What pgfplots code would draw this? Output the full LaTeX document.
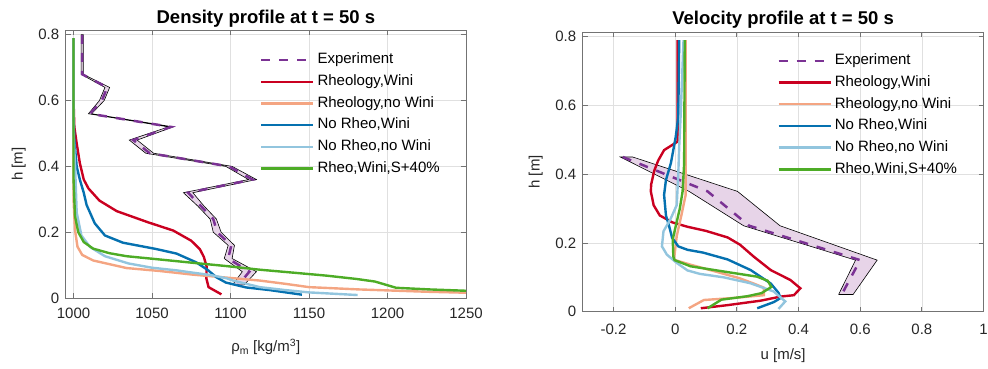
\documentclass[border=0pt]{standalone}
\usepackage{pgfplots}
\pgfplotsset{compat=1.18}
\usepackage{fontspec}
\setmainfont{Liberation Sans}
\definecolor{cRW}{HTML}{CA0020}
\definecolor{cRn}{HTML}{F4A582}
\definecolor{cNW}{HTML}{0571B0}
\definecolor{cNn}{HTML}{92C5DE}
\definecolor{cS}{HTML}{4DAC26}
\definecolor{cExp}{HTML}{7B3294}
\definecolor{cBand}{HTML}{E7D4E8}
\pgfplotsset{
  myaxis/.style={
    scale only axis,
    anchor=south west,
    font=\fontsize{15}{18}\selectfont,
    tick label style={font=\fontsize{15}{18}\selectfont, color=black!85},
    yticklabel style={xshift=-3pt},
    /pgf/number format/assume math mode=true,
    /pgf/number format/set thousands separator={},
    grid=major,
    major grid style={draw=black!12, line width=0.6pt},
    axis line style={draw=black!55, line width=0.8pt},
    tick style={draw=black!55, line width=0.8pt},
    tick align=inside,
    major tick length=5pt,
    ylabel style={at={(axis description cs:0,0.5)}, anchor=center, yshift=47pt, color=black!85},
    legend style={draw=none, fill=none, inner sep=0pt, row sep=0pt,
      font=\fontsize{15}{18}\selectfont,
      nodes={inner xsep=3pt, inner ysep=3.6pt, text height=11pt, text depth=3.5pt}},
    legend cell align=left,
    legend image code/.code={\draw[##1] (0pt,0pt) -- (52pt,0pt);},
  },
  sim/.style={line width=2.4pt},
}
\begin{document}
\begin{tikzpicture}
\useasboundingbox (0,0) rectangle (988pt,369pt);
% ---------------- Density ----------------
\begin{axis}[myaxis,
  at={(65.7pt,71pt)}, width=400.3pt, height=267.5pt,
  xmin=995, xmax=1250, ymin=0, ymax=0.813,
  xtick={1000,1050,1100,1150,1200,1250},
  ytick={0,0.2,0.4,0.6,0.8},
  xticklabel style={yshift=-6pt},
  title={Density profile at t = 50 s},
  title style={font=\fontsize{18.5}{21}\selectfont\bfseries, at={(0.5,1)}, anchor=base, yshift=0.5pt},
  xlabel={ρ\textsubscript{m} [kg/m\textsuperscript{3}]},
  xlabel style={at={(axis description cs:0.5,0)}, anchor=base, yshift=-54pt, color=black!85},
  ylabel={h [m]},
  legend style={at={(axis description cs:0.485,0.931)}, anchor=north west},
]
\addplot[fill=cBand, draw=black, line width=0.6pt, forget plot] coordinates {
(1101.3,0.04) (1107.5,0.08) (1096,0.12) (1098.5,0.16) (1089,0.20) (1087,0.24) (1079,0.28) (1070,0.32) (1111.5,0.36) (1097,0.40) (1046,0.44) (1035.5,0.48) (1060.5,0.52) (1009.5,0.56) (1016.5,0.60) (1020,0.64) (1004.8,0.68) (1004.8,0.72) (1004.8,0.76) (1004.8,0.80)
(1006.2,0.80) (1006.2,0.76) (1006.2,0.72) (1006.2,0.68) (1023,0.64) (1019.5,0.60) (1011.5,0.56) (1063.5,0.52) (1040.5,0.48) (1051,0.44) (1101,0.40) (1116.5,0.36) (1076,0.32) (1083,0.28) (1091,0.24) (1094,0.20) (1102.5,0.16) (1101,0.12) (1116.5,0.08) (1108.7,0.04) (1101.3,0.04)};
\addplot[cExp, line width=2.5pt, dash pattern=on 9pt off 9pt] coordinates {
(1005.5,0.80) (1005.5,0.76) (1005.5,0.72) (1005.5,0.68) (1021.5,0.64) (1018,0.60) (1010.5,0.56) (1062,0.52) (1038,0.48) (1048.5,0.44) (1099,0.40) (1114,0.36) (1073,0.32) (1081,0.28) (1089,0.24) (1091.5,0.20) (1100.5,0.16) (1098.5,0.12) (1112,0.08) (1105,0.04)};
\addlegendentry{Experiment}
\addplot[sim, cRW] coordinates {
(1000,0.79) (1000,0.60) (1000.5,0.52) (1002,0.47) (1004,0.41) (1006.5,0.36) (1009.5,0.333) (1016.5,0.296) (1027.5,0.264) (1047.5,0.23) (1063.5,0.205) (1075,0.174) (1080.5,0.148) (1083,0.125) (1084.8,0.095) (1084.6,0.06) (1086,0.033) (1094.2,0.011)};
\addlegendentry{Rheology,Wini}
\addplot[sim, cRn] coordinates {
(1000,0.79) (1000,0.30) (1000.9,0.207) (1002.5,0.156) (1005.5,0.131) (1012.5,0.114) (1033.8,0.091) (1055,0.082) (1076,0.071) (1097.4,0.062) (1118.6,0.053) (1135,0.043) (1150,0.033) (1182,0.026) (1225,0.019) (1250,0.016)};
\addlegendentry{Rheology,no Wini}
\addplot[sim, cNW] coordinates {
(1000,0.79) (1000,0.55) (1000.5,0.48) (1002,0.40) (1004,0.36) (1006.5,0.32) (1008.3,0.283) (1013.5,0.227) (1020,0.19) (1031.5,0.168) (1052.5,0.149) (1065.6,0.135) (1078.3,0.108) (1085.5,0.085) (1091,0.063) (1097,0.047) (1110,0.032) (1125,0.024) (1145.5,0.01)};
\addlegendentry{No Rheo,Wini}
\addplot[sim, cNn] coordinates {
(1000,0.79) (1000,0.50) (1001,0.40) (1002,0.26) (1005,0.19) (1010.5,0.155) (1020,0.127) (1035,0.105) (1050,0.092) (1065.6,0.084) (1076,0.077) (1087,0.07) (1097.4,0.06) (1101.6,0.053) (1118.6,0.033) (1135,0.024) (1150,0.017) (1181,0.009)};
\addlegendentry{No Rheo,no Wini}
\addplot[sim, cS] coordinates {
(1000,0.79) (1000,0.36) (1000.9,0.25) (1003,0.20) (1006.5,0.17) (1012.5,0.15) (1023,0.136) (1033.8,0.127) (1055,0.117) (1076,0.107) (1097.4,0.097) (1118.6,0.086) (1140,0.077) (1161,0.068) (1180,0.058) (1192,0.05) (1205.5,0.031) (1227,0.026) (1250,0.022)};
\addlegendentry{Rheo,Wini,S+40\%}
\end{axis}
% ---------------- Velocity ----------------
\begin{axis}[myaxis,
  at={(582.7pt,57.3pt)}, width=400.8pt, height=279.5pt,
  xmin=-0.3, xmax=1, ymin=0, ymax=0.813,
  xtick={-0.2,0,0.2,0.4,0.6,0.8,1},
  ytick={0,0.2,0.4,0.6,0.8},
  xticklabel style={yshift=-9pt},
  title={Velocity profile at t = 50 s},
  title style={font=\fontsize{18.5}{21}\selectfont\bfseries, at={(0.5,1)}, anchor=base, yshift=2.2pt},
  xlabel={u [m/s]},
  xlabel style={at={(axis description cs:0.5,0)}, anchor=base, yshift=-48pt, color=black!85},
  ylabel={h [m]},
  legend style={at={(axis description cs:0.485,0.937)}, anchor=north west},
]
\addplot[fill=cBand, draw=black, line width=0.6pt, forget plot] coordinates {
(0.53,0.05) (0.585,0.15) (0.222,0.25) (0.045,0.35) (-0.178,0.45) (-0.138,0.45) (0.202,0.35) (0.34,0.25) (0.655,0.15) (0.577,0.05) (0.53,0.05)};
\addplot[cExp, line width=2.5pt, dash pattern=on 9pt off 9pt] coordinates {
(-0.17,0.45) (0.105,0.35) (0.24,0.25) (0.60,0.15) (0.54,0.05)};
\addlegendentry{Experiment}
\addplot[sim, cRW] coordinates {
(0.008,0.79) (0.008,0.495) (-0.036,0.47) (-0.055,0.44) (-0.068,0.41) (-0.078,0.37) (-0.079,0.35) (-0.07,0.31) (-0.05,0.28) (-0.01,0.26) (0.04,0.247) (0.1,0.235) (0.17,0.216) (0.21,0.195) (0.255,0.16) (0.31,0.121) (0.374,0.092) (0.406,0.068) (0.385,0.048) (0.342,0.044) (0.277,0.032) (0.169,0.019) (0.083,0.01)};
\addlegendentry{Rheology,Wini}
\addplot[sim, cRn] coordinates {
(0.034,0.79) (0.034,0.34) (0.02,0.28) (0.005,0.22) (-0.004,0.151) (0.049,0.137) (0.13,0.117) (0.21,0.097) (0.26,0.08) (0.287,0.07) (0.288,0.048) (0.19,0.04) (0.093,0.034) (0.044,0.01)};
\addlegendentry{Rheology,no Wini}
\addplot[sim, cNW] coordinates {
(0.013,0.79) (0.01,0.567) (0.002,0.51) (-0.014,0.432) (-0.03,0.383) (-0.036,0.34) (-0.03,0.28) (-0.02,0.25) (-0.01,0.215) (0.01,0.19) (0.04,0.18) (0.09,0.172) (0.17,0.152) (0.245,0.121) (0.28,0.1) (0.31,0.082) (0.335,0.055) (0.342,0.04) (0.32,0.028) (0.266,0.01)};
\addlegendentry{No Rheo,Wini}
\addplot[sim, cNn] coordinates {
(0.027,0.79) (0.018,0.577) (0.013,0.48) (0.01,0.40) (0.005,0.31) (-0.016,0.268) (-0.038,0.234) (-0.043,0.19) (-0.027,0.166) (0.005,0.142) (0.04,0.12) (0.08,0.11) (0.157,0.1) (0.243,0.083) (0.319,0.059) (0.357,0.03) (0.335,0.008)};
\addlegendentry{No Rheo,no Wini}
\addplot[sim, cS] coordinates {
(0.031,0.79) (0.029,0.43) (0.024,0.35) (0.015,0.30) (0.002,0.25) (-0.008,0.21) (-0.006,0.16) (-0.002,0.15) (0.05,0.132) (0.157,0.117) (0.265,0.102) (0.30,0.09) (0.312,0.072) (0.28,0.054) (0.234,0.045) (0.15,0.035) (0.105,0.01)};
\addlegendentry{Rheo,Wini,S+40\%}
\end{axis}
\end{tikzpicture}
\end{document}
